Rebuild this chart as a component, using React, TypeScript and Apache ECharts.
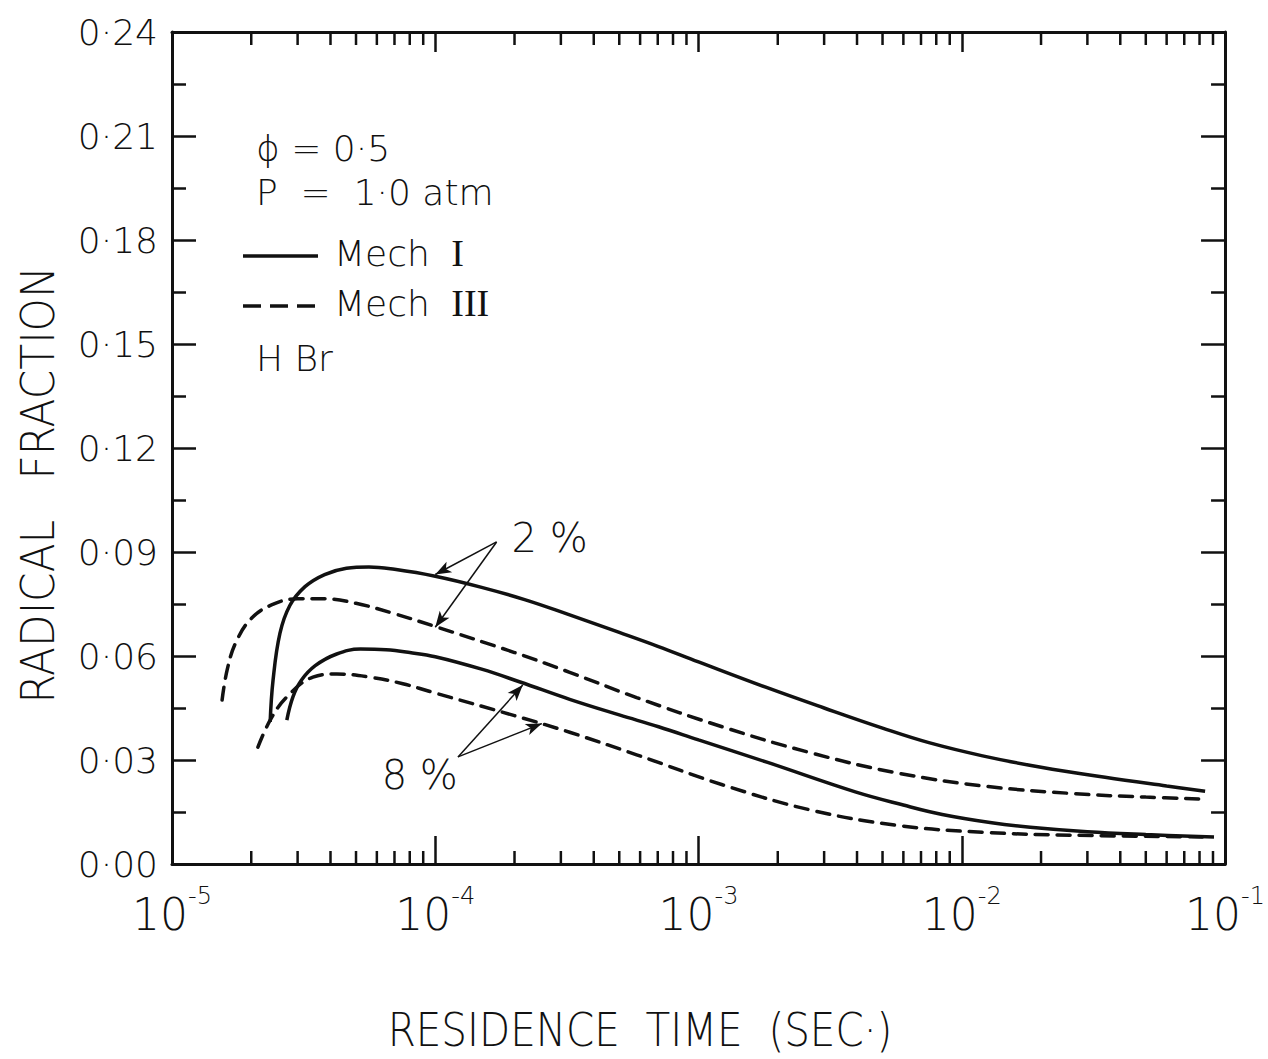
import React, { useEffect, useRef } from "react";
import * as echarts from "echarts";

// ---------- data (residence time [s], radical fraction) ----------
const mechI_2pct: [number, number][] = [
  [2.36e-5, 0.041], [2.42e-5, 0.053], [2.57e-5, 0.0665], [2.8e-5, 0.0745],
  [3.2e-5, 0.08], [3.8e-5, 0.0835], [4.6e-5, 0.0853], [5.6e-5, 0.0857],
  [7e-5, 0.085], [1e-4, 0.083], [1.5e-4, 0.0798], [2.2e-4, 0.0762],
  [3.2e-4, 0.072], [5e-4, 0.0668], [7e-4, 0.0628], [1e-3, 0.0583],
  [1.8e-3, 0.051], [3e-3, 0.045], [5e-3, 0.0392], [7.5e-3, 0.035],
  [1.2e-2, 0.0312], [2e-2, 0.0279], [3.5e-2, 0.025], [6e-2, 0.0225],
  [8.4e-2, 0.021],
];
const mechIII_2pct: [number, number][] = [
  [1.55e-5, 0.0473], [1.62e-5, 0.056], [1.75e-5, 0.064], [2e-5, 0.0708],
  [2.4e-5, 0.0748], [3e-5, 0.0765], [3.8e-5, 0.0765], [5e-5, 0.0752],
  [7e-5, 0.0722], [1e-4, 0.0685], [2e-4, 0.061], [3.24e-4, 0.0553],
  [5.82e-4, 0.048], [1.24e-3, 0.0395], [2.69e-3, 0.032], [5.74e-3, 0.0262],
  [1.24e-2, 0.0224], [2.67e-2, 0.0203], [5e-2, 0.0193], [8.39e-2, 0.0187],
];
const mechI_8pct: [number, number][] = [
  [2.73e-5, 0.0415], [2.88e-5, 0.0482], [3.1e-5, 0.053], [3.5e-5, 0.0572],
  [4.2e-5, 0.0605], [5.2e-5, 0.062], [6.5e-5, 0.0618], [8e-5, 0.061],
  [1e-4, 0.0598], [1.5e-4, 0.0562], [2.1e-4, 0.0525], [3.24e-4, 0.0475],
  [5e-4, 0.043], [7.05e-4, 0.0396], [1e-3, 0.0358], [1.83e-3, 0.0293],
  [3.94e-3, 0.0208], [6e-3, 0.017], [8.43e-3, 0.0143], [1.3e-2, 0.0119],
  [1.82e-2, 0.0106], [3e-2, 0.0093], [5e-2, 0.0085], [9.08e-2, 0.0078],
];
const mechIII_8pct: [number, number][] = [
  [2.12e-5, 0.0337], [2.36e-5, 0.0415], [2.73e-5, 0.0482], [3.43e-5, 0.0539],
  [4.23e-5, 0.0548], [5.64e-5, 0.0539], [7.53e-5, 0.052], [1e-4, 0.0493],
  [2e-4, 0.0428], [3.24e-4, 0.038], [5.82e-4, 0.0315], [1.24e-3, 0.0228],
  [2.69e-3, 0.0155], [5.74e-3, 0.0111], [1.24e-2, 0.0091], [2.67e-2, 0.0083],
  [8.39e-2, 0.0078],
];

// annotation arrows: [from, to]
const arrows2pct: [number, number][][] = [
  [[1.71e-4, 0.0929], [1.0e-4, 0.0835]],
  [[1.71e-4, 0.0929], [1.0e-4, 0.0683]],
];
const arrows8pct: [number, number][][] = [
  [[1.22e-4, 0.0309], [2.15e-4, 0.0516]],
  [[1.22e-4, 0.0309], [2.54e-4, 0.0405]],
];
const label2pct: [number, number] = [2.72e-4, 0.094];
const label8pct: [number, number] = [8.73e-5, 0.0257];

const yTickLabels = ["0·00", "0·03", "0·06", "0·09", "0·12", "0·15", "0·18", "0·21", "0·24"];
const xTickExponents = ["-5", "-4", "-3", "-2", "-1"];
const minorDecades = [-5, -4, -3, -2];
const minorMultipliers = [2, 3, 4, 5, 6, 7, 8, 9];

const FONT = "DejaVu Sans";
const SERIF = "Liberation Serif";
const INK = "#111";

export default function App() {
  const ref = useRef<HTMLDivElement>(null);
  useEffect(() => {
    if (!ref.current) return;
    const chart = echarts.init(ref.current, null, { renderer: "svg" });

    const minorTicks: [number, number][] = [];
    minorDecades.forEach((d) =>
      minorMultipliers.forEach((m) => minorTicks.push([m * Math.pow(10, d), 0]))
    );

    const lineBase = {
      type: "line" as const,
      showSymbol: false,
      symbol: "none",
      smooth: 0.4,
      xAxisIndex: 0,
      yAxisIndex: 0,
      silent: true,
      z: 3,
    };
    const solid = { color: INK, width: 3.5, type: "solid" as const };
    const dashed = { color: INK, width: 3.5, type: [13, 9] as any, cap: "round" as const };

    const arrowMark = (list: [number, number][][]) => ({
      silent: true,
      symbol: ["none", "arrow"],
      symbolSize: [9, 16],
      label: { show: false },
      lineStyle: { color: INK, width: 1.5, type: "solid" },
      data: list.map((a) => [{ coord: a[0] }, { coord: a[1] }]),
    });
    const textMark = (pos: [number, number], text: string) => ({
      silent: true,
      symbol: "circle",
      symbolSize: 1,
      itemStyle: { color: "rgba(0,0,0,0)" },
      label: {
        show: true,
        position: "inside",
        formatter: text,
        color: INK,
        fontSize: 40,
        fontFamily: FONT,
        fontWeight: 200,
      },
      data: [{ coord: pos }],
    });

    const xAxisCommon = {
      type: "log" as const,
      logBase: 10,
      min: 1e-5,
      max: 1e-1,
      splitNumber: 4,
      splitLine: { show: false },
      axisLine: { show: true, onZero: false, lineStyle: { color: INK, width: 3 } },
    };
    const yAxisCommon = {
      type: "value" as const,
      min: 0,
      max: 0.24,
      interval: 0.03,
      splitLine: { show: false },
      axisLine: { show: true, lineStyle: { color: INK, width: 3 } },
      axisTick: { show: true, inside: true, length: 24, lineStyle: { color: INK, width: 2.5 } },
      minorTick: { show: true, splitNumber: 2, length: 14, lineStyle: { color: INK, width: 2.5 } },
    };

    const legendFont = `200 36px "${FONT}"`;
    const romanFont = `38px "${SERIF}"`;

    chart.setOption({
      animation: false,
      backgroundColor: "#fff",
      grid: { left: 172, top: 32, right: 42, bottom: 195, containLabel: false },
      xAxis: [
        {
          ...xAxisCommon,
          position: "bottom",
          axisTick: { show: true, inside: true, length: 28, lineStyle: { color: INK, width: 2.5 } },
          axisLabel: {
            show: true,
            margin: 20,
            formatter: (v: number) => {
              const e = Math.round(Math.log10(v));
              const idx = e + 5;
              return `{b|10}{s|${xTickExponents[idx] ?? e}}`;
            },
            rich: {
              b: { fontSize: 44, fontFamily: FONT, fontWeight: 200, color: INK, lineHeight: 52, verticalAlign: "bottom" },
              s: { fontSize: 24, fontFamily: FONT, fontWeight: 200, color: INK, lineHeight: 52, verticalAlign: "top" },
            },
          },
        },
        {
          ...xAxisCommon,
          position: "top",
          axisTick: { show: true, inside: true, length: 20, lineStyle: { color: INK, width: 2.5 } },
          axisLabel: { show: false },
        },
      ],
      yAxis: [
        {
          ...yAxisCommon,
          position: "left",
          axisLabel: {
            show: true,
            margin: 14,
            fontSize: 36,
            fontFamily: FONT,
            fontWeight: 200,
            color: INK,
            formatter: (v: number) => yTickLabels[Math.round(v / 0.03)] ?? "",
          },
        },
        {
          ...yAxisCommon,
          position: "right",
          axisLabel: { show: false },
        },
      ],
      series: [
        {
          ...lineBase,
          name: "Mech I 2%",
          data: mechI_2pct,
          lineStyle: solid,
          markLine: arrowMark(arrows2pct),
          markPoint: textMark(label2pct, "2 %"),
        },
        { ...lineBase, name: "Mech III 2%", data: mechIII_2pct, lineStyle: dashed },
        {
          ...lineBase,
          name: "Mech I 8%",
          data: mechI_8pct,
          lineStyle: solid,
          markLine: arrowMark(arrows8pct),
          markPoint: textMark(label8pct, "8 %"),
        },
        { ...lineBase, name: "Mech III 8%", data: mechIII_8pct, lineStyle: dashed },
        {
          type: "custom",
          name: "minor ticks",
          silent: true,
          xAxisIndex: 0,
          yAxisIndex: 0,
          data: minorTicks,
          encode: { x: 0, y: 1 },
          z: 4,
          renderItem: (_p: any, api: any) => {
            const x = api.value(0);
            const b = api.coord([x, 0]);
            const t = api.coord([x, 0.24]);
            return {
              type: "group",
              children: [
                { type: "line", shape: { x1: b[0], y1: b[1], x2: b[0], y2: b[1] - 13 }, style: { stroke: INK, lineWidth: 2.5 } },
                { type: "line", shape: { x1: t[0], y1: t[1], x2: t[0], y2: t[1] + 13 }, style: { stroke: INK, lineWidth: 2.5 } },
              ],
            };
          },
        },
      ],
      graphic: [
        {
          type: "text",
          x: 38,
          y: 485,
          rotation: Math.PI / 2,
          scaleX: 0.92,
          style: { text: "RADICAL   FRACTION", font: `200 46px "${FONT}"`, fill: INK, align: "center", verticalAlign: "middle" },
        },
        {
          type: "text",
          x: 640,
          y: 1030,
          scaleX: 0.88,
          style: { text: "RESIDENCE  TIME  (SEC·)", font: `200 46px "${FONT}"`, fill: INK, align: "center", verticalAlign: "middle" },
        },
        { type: "text", left: 256, top: 130, style: { text: "ϕ = 0·5", font: legendFont, fill: INK } },
        { type: "text", left: 256, top: 174, style: { text: "P  =  1·0 atm", font: legendFont, fill: INK } },
        { type: "line", shape: { x1: 243, y1: 256, x2: 318, y2: 256 }, style: { stroke: INK, lineWidth: 3.5 } },
        {
          type: "text",
          left: 334,
          top: 234,
          style: {
            text: "{m|Mech }{r|I}",
            rich: {
              m: { font: legendFont, fill: INK },
              r: { font: romanFont, fill: INK, padding: [0, 0, 0, 10] },
            },
          },
        },
        { type: "line", shape: { x1: 243, y1: 306, x2: 318, y2: 306 }, style: { stroke: INK, lineWidth: 3.5, lineDash: [18, 9] } },
        {
          type: "text",
          left: 334,
          top: 284,
          style: {
            text: "{m|Mech }{r|III}",
            rich: {
              m: { font: legendFont, fill: INK },
              r: { font: romanFont, fill: INK, padding: [0, 0, 0, 10] },
            },
          },
        },
        { type: "text", left: 256, top: 340, style: { text: "H Br", font: legendFont, fill: INK } },
      ],
    });
    return () => chart.dispose();
  }, []);
  return (
    <div
      ref={ref}
      style={{ position: "absolute", left: 0, top: 0, width: 1268, height: 1059, background: "#fff" }}
    />
  );
}
